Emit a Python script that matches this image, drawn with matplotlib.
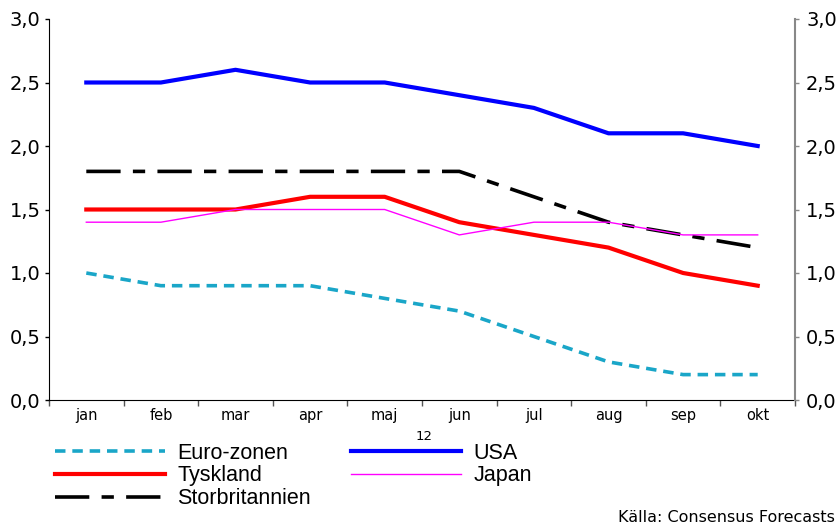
import matplotlib
matplotlib.use("Agg")
import matplotlib.pyplot as plt
from matplotlib.ticker import FixedLocator, FuncFormatter

months = ["jan", "feb", "mar", "apr", "maj", "jun", "jul", "aug", "sep", "okt"]
euro = [1.0, 0.9, 0.9, 0.9, 0.8, 0.7, 0.5, 0.3, 0.2, 0.2]
tyskland = [1.5, 1.5, 1.5, 1.6, 1.6, 1.4, 1.3, 1.2, 1.0, 0.9]
storbr = [1.8, 1.8, 1.8, 1.8, 1.8, 1.8, 1.6, 1.4, 1.3, 1.2]
usa = [2.5, 2.5, 2.6, 2.5, 2.5, 2.4, 2.3, 2.1, 2.1, 2.0]
japan = [1.4, 1.4, 1.5, 1.5, 1.5, 1.3, 1.4, 1.4, 1.3, 1.3]
yticks = [0.0, 0.5, 1.0, 1.5, 2.0, 2.5, 3.0]

fig = plt.figure(figsize=(8.39, 5.26), dpi=100)
ax = fig.add_axes([49/839, 1-400/526, (795-49)/839, (400-19)/526])
x = list(range(len(months)))

l1, = ax.plot(x, euro, color="#1aa6c8", lw=2.6, dashes=(2.9, 1.9), label="Euro-zonen")
l2, = ax.plot(x, tyskland, color="#ff0000", lw=3.0, label="Tyskland")
l3, = ax.plot(x, storbr, color="#000000", lw=2.6, dashes=(9.5, 3.4, 3.4, 3.4), label="Storbritannien")
l4, = ax.plot(x, usa, color="#0000ff", lw=3.0, label="USA")
l5, = ax.plot(x, japan, color="#ff00ff", lw=1.0, label="Japan")

ax.set_xlim(-0.5, len(months) - 0.5)
ax.set_ylim(0, 3.0)
ax.xaxis.set_major_locator(FixedLocator([i - 0.5 for i in range(len(months) + 1)]))
ax.xaxis.set_major_formatter(FuncFormatter(lambda v, p: ""))
ax.xaxis.set_minor_locator(FixedLocator(x))
ax.set_xticklabels(months, minor=True)
ax.tick_params(axis="x", which="major", direction="out", length=4, width=1, color="#555555")
ax.tick_params(axis="x", which="minor", length=0, pad=6, labelsize=10.5)

fmt = FuncFormatter(lambda v, p: f"{v:.1f}".replace(".", ","))
ax.set_yticks(yticks)
ax.yaxis.set_major_formatter(fmt)
ax.tick_params(axis="y", direction="out", length=3, width=1, labelsize=14, pad=3)
ax.spines["top"].set_visible(False)
ax.spines["right"].set_visible(False)

ax2 = ax.twinx()
ax2.set_ylim(0, 3.0)
ax2.set_yticks(yticks)
ax2.yaxis.set_major_formatter(fmt)
ax2.tick_params(axis="y", direction="out", length=3, width=1, labelsize=14, pad=5, color="#888888")
ax2.spines["right"].set_color("#888888")
ax2.spines["right"].set_linewidth(1.5)
for s in ["top", "left", "bottom"]:
    ax2.spines[s].set_visible(False)

fig.text(424/839, 1-436/526, "12", ha="center", va="center", fontsize=9.5)

fig.legend(handles=[l1, l2, l3, l4, l5], ncol=2, loc="upper left",
           bbox_to_anchor=(44/839, 1-432/526), frameon=False,
           prop={"family": "Liberation Sans", "size": 15.5},
           handlelength=5.1, handletextpad=0.6, columnspacing=1.85,
           labelspacing=0.08, borderpad=0)

fig.text(835/839, 1-517/526, "Källa: Consensus Forecasts", ha="right", va="center", fontsize=11.5)

fig.savefig("out.png", dpi=100)
